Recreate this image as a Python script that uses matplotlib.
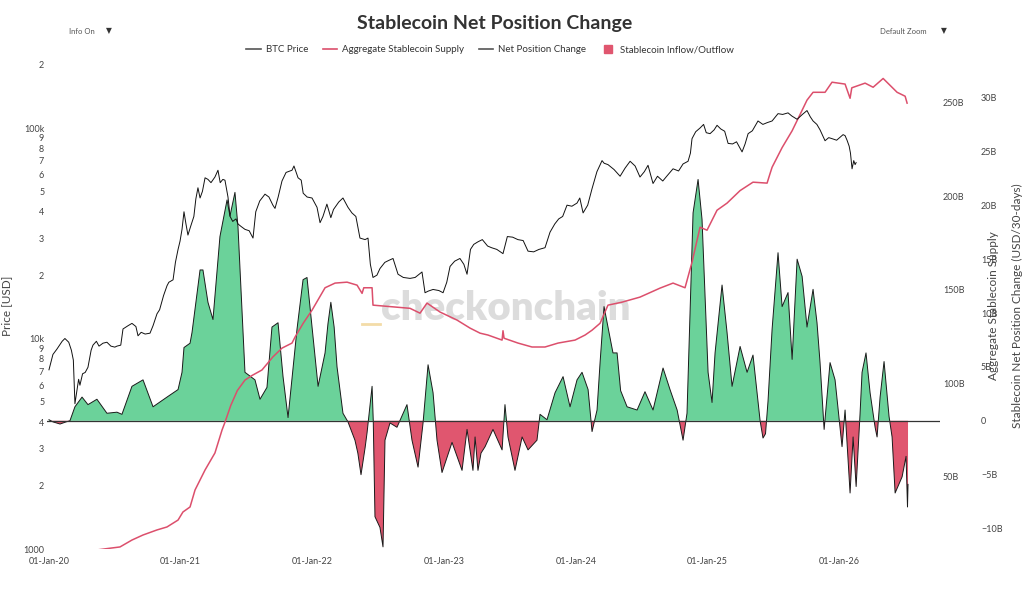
import numpy as np
import matplotlib
matplotlib.use("Agg")
import matplotlib.pyplot as plt
from matplotlib.lines import Line2D

plt.rcParams["font.family"] = ["Lato", "DejaVu Sans"]

# (decimal year, BTC price USD)
btc_points = [
    (2020.000, 7100), (2020.030, 8400), (2020.060, 8900), (2020.100, 9700), (2020.121, 10000),
    (2020.150, 9600), (2020.170, 8800), (2020.185, 7900), (2020.197, 4900), (2020.205, 5300),
    (2020.225, 6400), (2020.235, 6000), (2020.255, 6800), (2020.275, 6900), (2020.296, 7300),
    (2020.320, 8800), (2020.334, 9300), (2020.360, 9700), (2020.380, 9200), (2020.410, 9500),
    (2020.440, 9600), (2020.470, 9200), (2020.500, 9100), (2020.516, 9200), (2020.545, 9300),
    (2020.562, 11100), (2020.600, 11500), (2020.630, 11800), (2020.660, 11400), (2020.676, 10300),
    (2020.700, 10700), (2020.730, 10500), (2020.767, 10600), (2020.790, 11500), (2020.820, 13100),
    (2020.840, 13700), (2020.870, 16000), (2020.896, 17800), (2020.910, 18500), (2020.942, 19000),
    (2020.960, 23000), (2020.980, 26500), (2020.995, 29000), (2021.010, 33000), (2021.025, 40000),
    (2021.040, 35000), (2021.055, 31000), (2021.075, 34000), (2021.100, 38000), (2021.115, 46000),
    (2021.131, 52000), (2021.147, 46500), (2021.165, 50000), (2021.185, 58000), (2021.207, 57000),
    (2021.230, 55000), (2021.260, 58500), (2021.283, 63000), (2021.300, 55000), (2021.320, 57000),
    (2021.336, 56500), (2021.359, 47000), (2021.375, 38000), (2021.395, 36000), (2021.420, 37000),
    (2021.435, 35000), (2021.460, 34000), (2021.488, 33000), (2021.520, 32500), (2021.549, 30000),
    (2021.570, 40000), (2021.600, 45000), (2021.640, 48500), (2021.670, 47000), (2021.700, 43000),
    (2021.716, 41500), (2021.740, 47000), (2021.769, 56000), (2021.800, 61500), (2021.845, 63000),
    (2021.860, 66000), (2021.891, 58000), (2021.915, 56500), (2021.930, 49000), (2021.960, 47000),
    (2021.997, 46500), (2022.035, 42000), (2022.058, 35500), (2022.080, 38000), (2022.110, 43500),
    (2022.140, 37500), (2022.160, 41000), (2022.200, 44500), (2022.232, 46500), (2022.270, 42000),
    (2022.300, 39500), (2022.330, 38000), (2022.361, 30000), (2022.400, 29500), (2022.422, 30000),
    (2022.440, 22500), (2022.460, 19500), (2022.490, 20000), (2022.513, 21500), (2022.550, 23000),
    (2022.580, 23500), (2022.612, 24000), (2022.650, 20200), (2022.690, 19500), (2022.741, 19300),
    (2022.780, 19500), (2022.832, 20700), (2022.855, 16500), (2022.880, 16800), (2022.916, 17100),
    (2022.960, 16900), (2022.992, 16500), (2023.020, 18500), (2023.045, 22000), (2023.080, 23300),
    (2023.120, 24000), (2023.150, 22500), (2023.174, 20200), (2023.200, 26500), (2023.225, 28000),
    (2023.257, 28800), (2023.290, 29500), (2023.330, 27500), (2023.360, 27000), (2023.400, 26500),
    (2023.447, 25300), (2023.480, 30500), (2023.520, 30300), (2023.560, 29500), (2023.600, 29200),
    (2023.637, 26000), (2023.680, 25800), (2023.720, 26500), (2023.766, 27000), (2023.804, 32000),
    (2023.840, 35000), (2023.870, 37000), (2023.900, 38000), (2023.933, 43000), (2023.970, 42500),
    (2024.009, 44000), (2024.030, 46500), (2024.055, 39500), (2024.090, 43000), (2024.123, 51500),
    (2024.160, 62000), (2024.199, 70000), (2024.215, 68000), (2024.244, 67000), (2024.290, 63500),
    (2024.336, 59000), (2024.374, 64500), (2024.412, 69500), (2024.450, 66000), (2024.487, 58500),
    (2024.520, 62000), (2024.548, 66500), (2024.586, 54500), (2024.620, 59000), (2024.660, 56000),
    (2024.690, 59000), (2024.738, 64000), (2024.780, 62500), (2024.814, 67500), (2024.852, 69500),
    (2024.870, 76000), (2024.882, 89000), (2024.910, 96000), (2024.943, 100000), (2024.970, 104000),
    (2024.990, 95000), (2025.019, 94000), (2025.050, 98000), (2025.072, 103000), (2025.100, 99000),
    (2025.130, 96500), (2025.156, 84500), (2025.190, 84000), (2025.220, 86000), (2025.262, 77000),
    (2025.285, 84000), (2025.308, 94000), (2025.340, 97000), (2025.383, 108000), (2025.420, 104000),
    (2025.452, 106000), (2025.490, 108000), (2025.535, 117000), (2025.570, 116000), (2025.611, 118000),
    (2025.640, 114000), (2025.680, 110000), (2025.720, 116000), (2025.755, 121000), (2025.780, 113000),
    (2025.801, 108000), (2025.830, 104000), (2025.854, 98000), (2025.892, 87000), (2025.920, 90000),
    (2025.945, 89000), (2025.980, 87500), (2026.029, 93000), (2026.044, 92000), (2026.059, 87500),
    (2026.075, 82000), (2026.085, 76000), (2026.097, 64000), (2026.110, 70000), (2026.120, 67000),
    (2026.128, 68500),
]

# (decimal year, aggregate stablecoin supply in USD billions)
supply_points = [
    (2020.000, 4.5), (2020.100, 5.5), (2020.200, 7.0), (2020.300, 9.0), (2020.364, 10.7),
    (2020.450, 11.5), (2020.539, 12.3), (2020.630, 16.0), (2020.714, 18.7), (2020.820, 21.4),
    (2020.896, 23.0), (2020.980, 26.7), (2021.017, 31.0), (2021.071, 33.7), (2021.109, 42.8),
    (2021.185, 53.5), (2021.260, 62.6), (2021.314, 74.9), (2021.336, 79.0), (2021.380, 88.0),
    (2021.430, 96.0), (2021.488, 101.6), (2021.540, 104.0), (2021.617, 107.0), (2021.700, 114.0),
    (2021.769, 118.7), (2021.845, 121.4), (2021.868, 124.6), (2021.930, 132.0), (2021.997, 139.0),
    (2022.096, 151.0), (2022.172, 153.5), (2022.263, 154.0), (2022.339, 152.4), (2022.377, 148.0),
    (2022.390, 151.0), (2022.453, 151.0), (2022.460, 141.7), (2022.642, 140.6), (2022.741, 140.0),
    (2022.817, 137.4), (2022.870, 142.8), (2022.969, 138.0), (2023.098, 133.7), (2023.197, 129.4),
    (2023.273, 126.7), (2023.333, 125.7), (2023.440, 123.0), (2023.447, 128.0), (2023.455, 124.0),
    (2023.561, 121.4), (2023.667, 119.3), (2023.766, 119.3), (2023.865, 121.4), (2023.994, 123.0),
    (2024.070, 125.7), (2024.123, 128.3), (2024.184, 132.0), (2024.244, 141.7), (2024.351, 143.3),
    (2024.487, 146.0), (2024.639, 150.8), (2024.738, 153.5), (2024.829, 151.0), (2024.882, 164.7),
    (2024.943, 183.4), (2024.996, 181.8), (2025.072, 192.5), (2025.148, 196.3), (2025.247, 203.0),
    (2025.345, 207.5), (2025.452, 207.0), (2025.474, 212.0), (2025.490, 215.5), (2025.566, 226.0),
    (2025.642, 235.0), (2025.718, 246.0), (2025.755, 251.4), (2025.801, 255.6), (2025.892, 255.6),
    (2025.945, 261.0), (2026.044, 260.0), (2026.082, 252.4), (2026.095, 258.0), (2026.196, 260.5),
    (2026.257, 258.3), (2026.333, 263.0), (2026.439, 255.6), (2026.500, 253.5), (2026.515, 249.8),
]

# (decimal year, stablecoin net position change, USD billions per 30 days)
net_points = [
    (2020.000, 0.1), (2020.030, -0.1), (2020.084, -0.3), (2020.130, -0.1), (2020.159, 0.0),
    (2020.197, 1.3), (2020.251, 2.2), (2020.296, 1.5), (2020.364, 2.0), (2020.440, 0.7),
    (2020.516, 0.8), (2020.554, 0.6), (2020.630, 3.2), (2020.714, 3.8), (2020.790, 1.3),
    (2020.896, 2.2), (2020.980, 2.9), (2021.010, 4.5), (2021.025, 6.8), (2021.071, 7.2),
    (2021.086, 8.2), (2021.147, 14.0), (2021.169, 14.0), (2021.207, 11.0), (2021.245, 9.4),
    (2021.298, 17.1), (2021.352, 20.5), (2021.374, 19.0), (2021.412, 21.2), (2021.435, 18.0),
    (2021.488, 4.5), (2021.564, 3.8), (2021.602, 2.0), (2021.655, 3.1), (2021.693, 8.7),
    (2021.739, 9.1), (2021.777, 4.1), (2021.815, 0.3), (2021.883, 8.5), (2021.929, 13.1),
    (2021.959, 13.3), (2021.997, 8.7), (2022.043, 3.2), (2022.096, 6.3), (2022.118, 9.0),
    (2022.140, 11.0), (2022.165, 8.7), (2022.187, 5.0), (2022.232, 0.7), (2022.270, -0.1),
    (2022.323, -1.8), (2022.345, -3.0), (2022.369, -5.0), (2022.400, -2.5), (2022.415, -1.1),
    (2022.453, 3.2), (2022.462, 0.0), (2022.475, -8.9), (2022.513, -9.9), (2022.536, -11.7),
    (2022.551, -1.8), (2022.589, -0.2), (2022.642, -0.6), (2022.718, 1.5), (2022.756, -1.8),
    (2022.802, -4.3), (2022.840, -0.2), (2022.878, 5.2), (2022.916, 2.6), (2022.946, -1.8),
    (2022.984, -4.8), (2023.060, -2.0), (2023.136, -4.6), (2023.174, -0.8), (2023.219, -4.6),
    (2023.235, -1.5), (2023.257, -4.6), (2023.280, -3.0), (2023.311, -2.4), (2023.371, -0.8),
    (2023.440, -2.7), (2023.462, 1.5), (2023.485, -1.5), (2023.538, -4.6), (2023.592, -1.5),
    (2023.637, -2.7), (2023.705, -1.8), (2023.728, 0.6), (2023.781, 0.1), (2023.842, 2.6),
    (2023.903, 4.1), (2023.956, 1.3), (2024.009, 3.8), (2024.047, 4.5), (2024.093, 2.9),
    (2024.123, -1.0), (2024.161, 1.0), (2024.184, 5.4), (2024.214, 10.6), (2024.244, 8.7),
    (2024.282, 6.3), (2024.313, 6.3), (2024.340, 2.8), (2024.389, 1.3), (2024.465, 1.0),
    (2024.525, 2.7), (2024.586, 1.0), (2024.662, 4.9), (2024.715, 2.9), (2024.769, 1.0),
    (2024.814, -1.8), (2024.844, 0.7), (2024.867, 10.0), (2024.890, 19.3), (2024.928, 22.4),
    (2024.958, 18.7), (2024.981, 11.5), (2025.004, 4.5), (2025.034, 1.7), (2025.057, 6.3),
    (2025.110, 12.6), (2025.148, 8.2), (2025.186, 3.2), (2025.247, 6.9), (2025.300, 4.5),
    (2025.345, 6.1), (2025.399, 0.0), (2025.421, -1.6), (2025.440, -1.2), (2025.459, 1.8),
    (2025.490, 8.5), (2025.535, 15.6), (2025.566, 10.6), (2025.611, 11.9), (2025.642, 5.7),
    (2025.680, 15.0), (2025.718, 13.4), (2025.755, 8.7), (2025.801, 12.2), (2025.831, 9.1),
    (2025.854, 5.4), (2025.885, -0.8), (2025.930, 5.4), (2025.968, 3.8), (2026.000, 0.0),
    (2026.021, -2.4), (2026.044, 1.0), (2026.082, -6.7), (2026.105, -1.5), (2026.128, -6.1),
    (2026.158, 0.7), (2026.173, 4.5), (2026.203, 6.3), (2026.234, 2.6), (2026.272, -0.6),
    (2026.287, -1.5), (2026.310, 2.2), (2026.340, 5.5), (2026.378, 0.4), (2026.401, -1.5),
    (2026.424, -6.7), (2026.477, -5.2), (2026.507, -3.3), (2026.518, -8.0), (2026.522, -5.9),
]

year_ticks = [2020, 2021, 2022, 2023, 2024, 2025, 2026]
year_labels = ["01-Jan-20", "01-Jan-21", "01-Jan-22", "01-Jan-23", "01-Jan-24", "01-Jan-25", "01-Jan-26"]

price_ticks = [1000, 2000, 3000, 4000, 5000, 6000, 7000, 8000, 9000,
               10000, 20000, 30000, 40000, 50000, 60000, 70000, 80000, 90000,
               100000, 200000]
price_labels = ["1000", "2", "3", "4", "5", "6", "7", "8", "9",
                "10k", "2", "3", "4", "5", "6", "7", "8", "9",
                "100k", "2"]

supply_ticks = [50, 100, 150, 200, 250]
supply_labels = ["50B", "100B", "150B", "200B", "250B"]

net_ticks = [-10, -5, 0, 5, 10, 15, 20, 25, 30]
net_labels = ["\u221210B", "\u22125B", "0", "5B", "10B", "15B", "20B", "25B", "30B"]

GREEN = "#6bd29a"
RED = "#e0566f"
LINE_RED = "#dc4f6c"
TEXT = "#444444"

btc_x, btc_y = np.array(btc_points).T
sup_x, sup_y = np.array(supply_points).T
net_x, net_y = np.array(net_points).T

fig, ax = plt.subplots(figsize=(10.24, 5.89), dpi=100)
fig.subplots_adjust(left=0.0459, right=0.918, bottom=0.0679, top=0.8947)

ax_s = ax.twinx()
ax_n = ax.twinx()
ax.set_zorder(3)
ax.patch.set_visible(False)
ax_s.set_zorder(2)
ax_s.patch.set_visible(False)
ax_n.set_zorder(1)

# net position change (bottom layer)
ax_n.fill_between(net_x, net_y, 0, where=net_y >= 0, interpolate=True, color=GREEN, lw=0)
ax_n.fill_between(net_x, net_y, 0, where=net_y <= 0, interpolate=True, color=RED, lw=0)
ax_n.plot(net_x, net_y, color="#1a1a1a", lw=0.7)
ax_n.axhline(0, color="#333333", lw=0.9)
ax_n.set_ylim(-11.9, 33.3)
ax_n.set_yticks(net_ticks)
ax_n.set_yticklabels(net_labels)
ax_n.spines["right"].set_position(("outward", 27.5))

# aggregate supply
ax_s.plot(sup_x, sup_y, color=LINE_RED, lw=1.1)
ax_s.set_ylim(11.2, 271.8)
ax_s.set_yticks(supply_ticks)
ax_s.set_yticklabels(supply_labels)

# btc price
ax.plot(btc_x, btc_y, color="#111111", lw=0.7)
ax.set_yscale("log")
ax.set_ylim(1000, 205800)
ax.set_yticks(price_ticks)
ax.set_yticklabels(price_labels)
ax.yaxis.set_minor_locator(plt.NullLocator())
ax.set_xlim(2019.985, 2026.765)
ax.set_xticks(year_ticks)
ax.set_xticklabels(year_labels)

for a in (ax, ax_s, ax_n):
    for sp in a.spines.values():
        sp.set_visible(False)
    a.tick_params(length=0, labelsize=6.5, colors=TEXT, pad=2)
ax.tick_params(axis="x", pad=6)

ax.set_ylabel("Price [USD]", fontsize=8.5, color=TEXT)
ax.yaxis.set_label_coords(-0.039, 0.5)
ax_s.set_ylabel("Aggregate Stablecoin Supply", fontsize=8.5, color=TEXT)
ax_s.yaxis.set_label_coords(1.054, 0.5)
ax_n.set_ylabel("Stablecoin Net Position Change (USD/30-days)", fontsize=8.5, color=TEXT)
ax_n.yaxis.set_label_coords(1.081, 0.5)

# watermark
fig.text(506 / 1024, 1 - 308 / 589, "checkonchain", fontsize=29, fontweight="heavy",
         color="#d4d4d4", alpha=0.8, ha="center", va="center", zorder=0)
fig.add_artist(Line2D([362 / 1024, 380 / 1024], [1 - 324 / 589] * 2,
                      transform=fig.transFigure, color="#f3dca8", lw=2))

fig.text(495 / 1024, 1 - 24 / 589, "Stablecoin Net Position Change", fontsize=14,
         fontweight="bold", color="#333333", ha="center", va="center")
fig.text(69 / 1024, 1 - 31 / 589, "Info On", fontsize=5.5, color="#555555", va="center")
fig.text(106 / 1024, 1 - 31 / 589, "\u25BC", fontsize=5.5, color="#333333", va="center")
fig.text(880 / 1024, 1 - 31 / 589, "Default Zoom", fontsize=5.5, color="#555555", va="center")
fig.text(941 / 1024, 1 - 31 / 589, "\u25BC", fontsize=5.5, color="#333333", va="center")

handles = [
    Line2D([], [], color="#555555", lw=1.2),
    Line2D([], [], color=LINE_RED, lw=1.2),
    Line2D([], [], color="#555555", lw=1.2),
    Line2D([], [], color=RED, marker="s", markersize=6, lw=0),
]
labels = ["BTC Price", "Aggregate Stablecoin Supply", "Net Position Change", "Stablecoin Inflow/Outflow"]
fig.legend(handles, labels, loc="center", bbox_to_anchor=(490 / 1024, 1 - 50 / 589), ncol=4,
           frameon=False, fontsize=7, handlelength=1.5, handletextpad=0.5, columnspacing=1.5,
           labelcolor="#333333")

fig.savefig("out.png", dpi=100)
